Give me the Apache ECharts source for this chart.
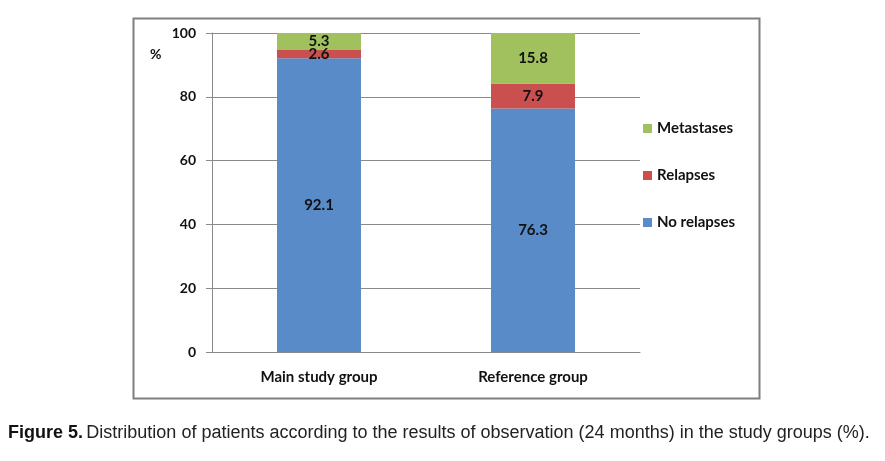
<!DOCTYPE html>
<html>
<head>
<meta charset="utf-8">
<script src="https://cdn.jsdelivr.net/npm/echarts@6/dist/echarts.min.js"></script>
<style>
html,body{margin:0;padding:0;background:#fff;}
#chart{width:885px;height:461px;}
</style>
</head>
<body>
<div id="chart"></div>
<script>
var categories = ['Main study group', 'Reference group'];
var noRelapses = [92.1, 76.3];
var relapses = [2.6, 7.9];
var metastases = [5.3, 15.8];
var yTicks = [0, 20, 40, 60, 80, 100];

var chart = echarts.init(document.getElementById('chart'));
var labelFont = 'Lato, "Open Sans", sans-serif';
function seriesOf(name, data, color) {
  return {
    name: name, type: 'bar', stack: 'total', data: data, barWidth: 84,
    itemStyle: { color: color },
    label: { show: true, position: 'inside', color: '#111', fontWeight: 'bold', fontSize: 15, fontFamily: labelFont,
      formatter: function (p) { return p.value.toFixed(1); } }
  };
}
chart.setOption({
  animation: false,
  backgroundColor: '#fff',
  grid: { left: 212, right: 245, top: 33, bottom: 109 },
  legend: {
    orient: 'vertical', left: 638, top: 116, itemGap: 32, itemWidth: 9, itemHeight: 9,
    icon: 'rect',
    data: ['Metastases', 'Relapses', 'No relapses'],
    textStyle: { color: '#111', fontWeight: 'bold', fontSize: 15, fontFamily: labelFont }
  },
  xAxis: {
    type: 'category', data: categories,
    axisLine: { lineStyle: { color: '#8a8a8a', width: 1 } },
    axisTick: { show: false },
    axisLabel: { color: '#111', fontWeight: 'bold', fontSize: 15, fontFamily: labelFont, margin: 18 }
  },
  yAxis: {
    type: 'value', min: yTicks[0], max: yTicks[yTicks.length - 1], interval: 20,
    axisLine: { show: true, lineStyle: { color: '#8a8a8a' } },
    axisTick: { show: true, length: 6, lineStyle: { color: '#8a8a8a' } },
    splitLine: { lineStyle: { color: '#8a8a8a', width: 1 } },
    axisLabel: { color: '#111', fontWeight: 'bold', fontSize: 14, fontFamily: labelFont, margin: 16 }
  },
  graphic: [
    { type: 'rect', left: 131, top: 16, shape: { width: 626, height: 380 },
      style: { fill: 'none', stroke: '#7f7f7f', lineWidth: 2 }, z: -1 },
    { type: 'text', left: 150, top: 47,
      style: { text: '%', fill: '#111', font: 'bold 14px Lato, sans-serif' } },
    { type: 'text', left: 8, top: 424,
      style: {
        text: '{b|Figure 5.} {r|Distribution of patients according to the results of observation (24 months) in the study groups (%).}',
        rich: {
          b: { fontFamily: '"Liberation Sans", Arial, sans-serif', fontWeight: 'bold', fontSize: 18, fill: '#111' },
          r: { fontFamily: '"Liberation Sans", Arial, sans-serif', fontSize: 18, fill: '#222' }
        }
      } }
  ],
  series: [
    seriesOf('No relapses', noRelapses, '#588BC7'),
    seriesOf('Relapses', relapses, '#C9504E'),
    seriesOf('Metastases', metastases, '#A0C15E')
  ]
});
</script>
</body>
</html>
